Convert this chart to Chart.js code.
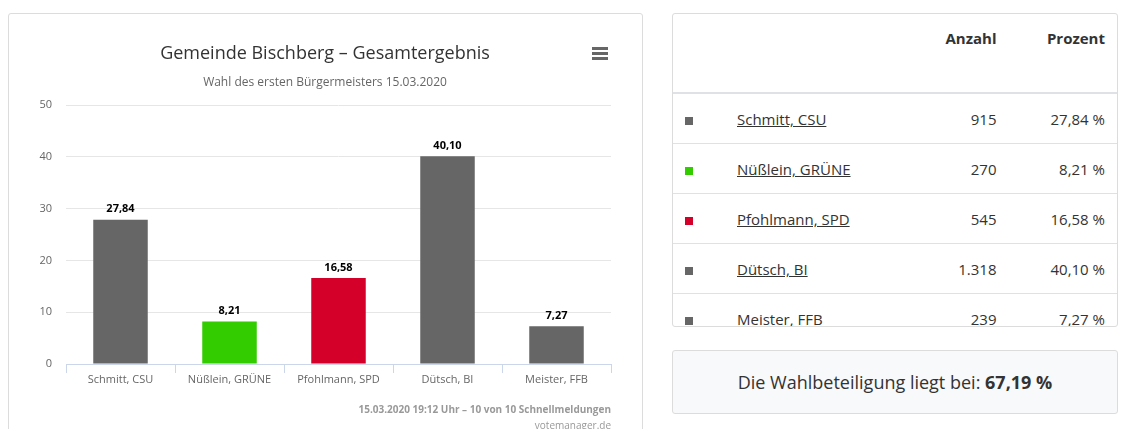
<!DOCTYPE html>
<html><head><meta charset="utf-8">
<script src="https://cdn.jsdelivr.net/npm/chart.js@4"></script>
<style>
body{margin:0;width:1126px;height:429px;background:#fff;font-family:"Open Sans",sans-serif;position:relative;overflow:hidden}
.card{position:absolute;border:1px solid #dcdcdc;border-radius:3px;background:#fff}
#cw{position:absolute;left:8px;top:14px;width:633px;height:415px}
.t{position:absolute;white-space:nowrap}
table{border-collapse:collapse;width:100%;font-size:15px;color:#333}
td,th{padding:0 12px;height:49px}
th{font-weight:bold;height:64px;vertical-align:top;padding-top:14px;text-align:right;border-bottom:2px solid #dee2e6}
td{border-top:1px solid #dee2e6}
.sq{display:inline-block;width:8px;height:8px}
a{color:#333;text-decoration:underline}
</style></head><body>
<div class="card" style="left:8px;top:13px;width:633px;height:430px"></div>
<div id="cw"><canvas id="c"></canvas></div>
<div class="t" style="left:0;width:650px;top:40px;text-align:center;font-size:18px;color:#333">Gemeinde Bischberg – Gesamtergebnis</div>
<div class="t" style="left:0;width:650px;top:73px;text-align:center;font-size:12px;color:#666">Wahl des ersten Bürgermeisters 15.03.2020</div>
<div class="t" style="left:592px;top:47px;width:16px;height:3px;background:#666;box-shadow:0 5px 0 #666,0 10px 0 #666"></div>
<div class="t" style="right:515px;top:402px;font-size:10px;font-weight:bold;color:#999">15.03.2020 19:12 Uhr – 10 von 10 Schnellmeldungen</div>
<div class="t" style="right:515px;top:418px;font-size:10px;color:#999">votemanager.de</div>
<div class="card" style="left:672px;top:13px;width:444px;height:312px;overflow:hidden">
<table id="tb"><tr><th style="width:20px"></th><th></th><th>Anzahl</th><th>Prozent</th></tr></table>
</div>
<div class="card" style="left:672px;top:350px;width:444px;height:62px;background:#f8f9fa;text-align:center;line-height:62px;font-size:18px;color:#333">Die Wahlbeteiligung liegt bei: <b>67,19 %</b></div>
<script>
const categories=["Schmitt, CSU","Nüßlein, GRÜNE","Pfohlmann, SPD","Dütsch, BI","Meister, FFB"];
const percent=[27.84,8.21,16.58,40.10,7.27];
const votes=["915","270","545","1.318","239"];
const colors=["#666666","#33cc00","#d4002a","#666666","#666666"];
const yTicks=[0,10,20,30,40,50];
const fmt=v=>v.toFixed(2).replace('.',',');
const tb=document.getElementById('tb');
categories.forEach((c,i)=>{const r=tb.insertRow();
r.innerHTML=`<td style="padding-left:12px"><span class="sq" style="background:${colors[i]}"></span></td><td style="padding-left:20px"><a>${c}</a></td><td style="text-align:right">${votes[i]}</td><td style="text-align:right">${fmt(percent[i])} %</td>`;});
const labelsPlugin={id:'lbl',afterDatasetsDraw(ch){const ctx=ch.ctx;const m=ch.getDatasetMeta(0);ctx.save();ctx.font='bold 11px "Open Sans"';ctx.fillStyle='#000';ctx.textAlign='center';ctx.textBaseline='bottom';
m.data.forEach((b,i)=>ctx.fillText(fmt(percent[i]),b.x,b.y-5));ctx.restore();}};
new Chart(document.getElementById('c'),{type:'bar',
data:{labels:categories,datasets:[{data:percent,backgroundColor:colors,categoryPercentage:0.5,barPercentage:1}]},
options:{responsive:true,maintainAspectRatio:false,animation:false,
layout:{padding:{top:91,right:30,bottom:35,left:0}},
plugins:{legend:{display:false},tooltip:{enabled:false}},
scales:{
y:{min:0,max:50,afterBuildTicks:s=>{s.ticks=yTicks.map(v=>({value:v}))},afterFit:s=>{s.width=58},
 border:{display:false},grid:{color:'#e6e6e6',drawTicks:false},ticks:{padding:14,color:'#666',font:{size:11,family:'"Open Sans"'}}},
x:{afterFit:s=>{s.height=30},border:{color:'#ccd6eb'},grid:{offset:true,drawOnChartArea:false,color:'#ccd6eb',tickLength:9},
 ticks:{color:'#666',padding:0,font:{size:11,family:'"Open Sans"'}}}}},
plugins:[labelsPlugin]});
</script></body></html>
